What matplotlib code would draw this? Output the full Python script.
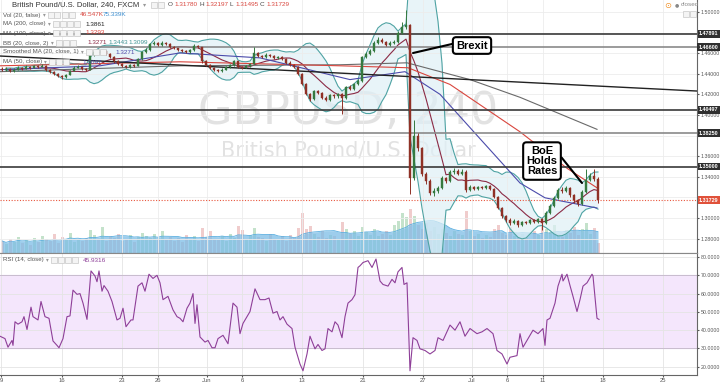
import numpy as np
import pandas as pd
import matplotlib
matplotlib.use("Agg")
from matplotlib import pyplot as plt
from matplotlib.patches import Rectangle

plt.rcParams['font.family'] = ['Liberation Sans', 'DejaVu Sans']

first_open = 1.4450
closes = [1.4440, 1.4450, 1.4430, 1.4440, 1.4460, 1.4450, 1.4470, 1.4460, 1.4478, 1.4469,
          1.4480, 1.4440, 1.4420, 1.4400, 1.4380, 1.4365, 1.4390, 1.4430, 1.4460, 1.4470,
          1.4450, 1.4440, 1.4580, 1.4610, 1.4600, 1.4620, 1.4590, 1.4560, 1.4520, 1.4500,
          1.4480, 1.4470, 1.4490, 1.4480, 1.4540, 1.4610, 1.4630, 1.4690, 1.4700, 1.4680,
          1.4700, 1.4690, 1.4660, 1.4650, 1.4630, 1.4620, 1.4610, 1.4630, 1.4670, 1.4660,
          1.4520, 1.4490, 1.4460, 1.4440, 1.4430, 1.4440, 1.4470, 1.4490, 1.4520, 1.4470,
          1.4460, 1.4480, 1.4500, 1.4600, 1.4570, 1.4560, 1.4580, 1.4570, 1.4550, 1.4560,
          1.4540, 1.4510, 1.4490, 1.4470, 1.4400, 1.4300, 1.4200, 1.4160, 1.4230, 1.4210,
          1.4170, 1.4150, 1.4190, 1.4180, 1.4200, 1.4170, 1.4270, 1.4250, 1.4300, 1.4330,
          1.4560, 1.4590, 1.4620, 1.4700, 1.4730, 1.4710, 1.4680, 1.4700, 1.4710, 1.4800,
          1.4850, 1.4870, 1.3390, 1.3800, 1.3680, 1.3430, 1.3360, 1.3240, 1.3260, 1.3290,
          1.3390, 1.3360, 1.3450, 1.3460, 1.3430, 1.3450, 1.3270, 1.3300, 1.3280, 1.3300,
          1.3290, 1.3310, 1.3280, 1.3200, 1.3100, 1.3020, 1.2980, 1.2950, 1.2970, 1.2930,
          1.2960, 1.2950, 1.2980, 1.2960, 1.2990, 1.2950, 1.3050, 1.3120, 1.3190, 1.3270,
          1.3260, 1.3290, 1.3220, 1.3170, 1.3140, 1.3250, 1.3370, 1.3410, 1.3380, 1.3173]
highs = [1.4465, 1.4462, 1.4458, 1.4452, 1.4472, 1.4470, 1.4485, 1.4478, 1.4490, 1.4485,
         1.4495, 1.4485, 1.4448, 1.4425, 1.4405, 1.4390, 1.4400, 1.4440, 1.4475, 1.4490,
         1.4478, 1.4460, 1.4595, 1.4630, 1.4640, 1.4635, 1.4630, 1.4600, 1.4570, 1.4530,
         1.4510, 1.4490, 1.4500, 1.4500, 1.4550, 1.4620, 1.4650, 1.4700, 1.4720, 1.4710,
         1.4715, 1.4710, 1.4695, 1.4670, 1.4655, 1.4640, 1.4630, 1.4640, 1.4685, 1.4680,
         1.4665, 1.4530, 1.4500, 1.4470, 1.4450, 1.4455, 1.4480, 1.4500, 1.4530, 1.4525,
         1.4480, 1.4490, 1.4510, 1.4660, 1.4610, 1.4585, 1.4600, 1.4595, 1.4580, 1.4575,
         1.4570, 1.4550, 1.4520, 1.4500, 1.4480, 1.4410, 1.4310, 1.4210, 1.4245, 1.4240,
         1.4220, 1.4180, 1.4200, 1.4200, 1.4210, 1.4210, 1.4280, 1.4290, 1.4315, 1.4345,
         1.4575, 1.4610, 1.4640, 1.4715, 1.4760, 1.4745, 1.4720, 1.4715, 1.4730, 1.4820,
         1.4900, 1.5018, 1.4880, 1.3950, 1.3830, 1.3690, 1.3450, 1.3380, 1.3290, 1.3310,
         1.3410, 1.3400, 1.3470, 1.3490, 1.3480, 1.3480, 1.3470, 1.3320, 1.3310, 1.3315,
         1.3310, 1.3325, 1.3320, 1.3290, 1.3210, 1.3110, 1.3030, 1.3000, 1.2990, 1.2980,
         1.2975, 1.2975, 1.2995, 1.2990, 1.3000, 1.3000, 1.3065, 1.3135, 1.3210, 1.3290,
         1.3300, 1.3310, 1.3300, 1.3230, 1.3180, 1.3270, 1.3480, 1.3440, 1.3480, 1.3400]
lows = [1.4425, 1.4430, 1.4418, 1.4422, 1.4435, 1.4440, 1.4445, 1.4450, 1.4455, 1.4460,
        1.4462, 1.4430, 1.4410, 1.4390, 1.4368, 1.4350, 1.4360, 1.4385, 1.4425, 1.4455,
        1.4440, 1.4430, 1.4435, 1.4570, 1.4590, 1.4590, 1.4580, 1.4550, 1.4510, 1.4490,
        1.4465, 1.4455, 1.4460, 1.4470, 1.4475, 1.4530, 1.4600, 1.4620, 1.4680, 1.4670,
        1.4670, 1.4680, 1.4650, 1.4640, 1.4620, 1.4610, 1.4600, 1.4600, 1.4625, 1.4650,
        1.4510, 1.4480, 1.4450, 1.4430, 1.4420, 1.4420, 1.4435, 1.4460, 1.4480, 1.4460,
        1.4450, 1.4455, 1.4470, 1.4495, 1.4560, 1.4550, 1.4555, 1.4560, 1.4540, 1.4540,
        1.4530, 1.4500, 1.4480, 1.4460, 1.4390, 1.4290, 1.4190, 1.4140, 1.4150, 1.4200,
        1.4160, 1.4135, 1.4140, 1.4170, 1.4170, 1.4010, 1.4160, 1.4240, 1.4240, 1.4290,
        1.4320, 1.4550, 1.4580, 1.4610, 1.4690, 1.4700, 1.4670, 1.4670, 1.4690, 1.4700,
        1.4790, 1.4840, 1.3229, 1.3370, 1.3650, 1.3410, 1.3330, 1.3220, 1.3210, 1.3240,
        1.3280, 1.3340, 1.3350, 1.3430, 1.3420, 1.3420, 1.3250, 1.3260, 1.3270, 1.3270,
        1.3280, 1.3280, 1.3270, 1.3190, 1.3090, 1.3000, 1.2960, 1.2930, 1.2940, 1.2910,
        1.2920, 1.2940, 1.2940, 1.2950, 1.2955, 1.2880, 1.2940, 1.3040, 1.3110, 1.3180,
        1.3240, 1.3250, 1.3200, 1.3150, 1.3120, 1.3130, 1.3240, 1.3360, 1.3360, 1.3150]
# volume in thousands
volumes = [60, 45, 70, 55, 80, 50, 65, 40, 75, 55,
           85, 70, 60, 95, 50, 80, 70, 100, 55, 65,
           60, 75, 115, 90, 70, 130, 60, 85, 75, 95,
           60, 70, 90, 55, 80, 100, 85, 75, 95, 70,
           110, 65, 80, 60, 75, 55, 90, 70, 85, 60,
           122, 80, 110, 70, 65, 85, 60, 95, 75, 133,
           115, 70, 90, 125, 80, 75, 60, 95, 70, 65,
           85, 60, 90, 75, 122, 196, 120, 133, 95, 80,
           110, 75, 90, 85, 70, 152, 120, 95, 110, 85,
           130, 105, 90, 120, 85, 95, 110, 90, 140, 160,
           200, 180, 215, 185, 140, 120, 148, 110, 130, 95,
           120, 100, 85, 110, 95, 90, 207, 110, 85, 95,
           75, 90, 80, 120, 140, 100, 90, 130, 85, 75,
           95, 80, 70, 110, 90, 150, 120, 105, 140, 95,
           80, 115, 100, 130, 90, 120, 150, 95, 125, 47]

# moving averages, vertices (4H bar index, price)
ma200_bars = [0, 90, 170, 203.5, 235, 260, 298.5]
ma200 = [1.4421, 1.4478, 1.4488, 1.4507, 1.4344, 1.4172, 1.3861]
ma100_bars = [0, 90, 170, 204, 225, 260, 283.5, 298.5]
ma100 = [1.4478, 1.4517, 1.4478, 1.4459, 1.4297, 1.3837, 1.3483, 1.3293]
ma50_bars = [0, 50, 90, 130, 175, 202.5, 220, 240, 260, 272.5, 298.5]
ma50 = [1.4440, 1.4478, 1.4603, 1.4555, 1.4344, 1.4421, 1.4201, 1.3770, 1.3340, 1.3196, 1.3097]

# drawn trendline
trend_bars = [0, 348.5]
trend_prices = [1.4573, 1.4233]

levels = [1.47891, 1.46600, 1.40497, 1.38250, 1.35000]
level_colors = ['#3a3a3a', '#8a8a8a', '#3a3a3a', '#8a8a8a', '#3a3a3a']
last_price = 1.31729

rsi_bars = [0, 2.5, 4, 6, 6.5, 7.5, 9, 11, 12, 13.5, 15.5, 16.5, 19, 20.5, 22.5, 24.5, 26.5,
            28.5, 29.5, 31.5, 33.5, 35, 36.5, 38.5, 40, 41.5, 43.5, 45.5, 47.5, 48.5, 49.5,
            51, 52, 54, 56, 58.5, 60, 61.5, 63, 65.5, 66.5, 69, 71, 72.5, 74.5, 76.5, 78.5,
            80, 81.5, 84, 86.5, 88.5, 90, 91.5, 93.5, 95, 96.5, 97.5, 98.5, 100, 102.5, 104,
            106, 107.5, 109, 111.5, 114, 116.5, 118.5, 120, 121.5, 123.5, 125, 127.5, 130,
            132.5, 134.5, 136.5, 138.5, 140, 141.5, 143.5, 146, 147.5, 150, 151.5, 153.5,
            155, 157.5, 159, 161, 162.5, 164, 166, 167.5, 169, 171, 172.5, 174, 176, 177.5,
            179, 180, 181.5, 184, 186, 188, 190, 191.5, 194, 196, 197.5, 199, 201, 202,
            203.5, 205, 206.5, 208.5, 210, 212.5, 215, 217.5, 219, 221.5, 225, 227.5, 230,
            232.5, 235, 238.5, 241, 243.5, 246.5, 248.5, 251, 253.5, 255, 258.5, 260, 261.5,
            264, 266.5, 269, 271.5, 272.5, 273.5, 275, 277.5, 279, 281, 281.5, 283.5, 285,
            286.5, 288.5, 290, 291.5, 293.5, 296, 296.5, 298.5, 299.5]
rsi_vals = [36.7, 35.4, 30.7, 34.4, 31.7, 44.6, 43.3, 44.6, 47.4, 40.4, 52.6, 47.4, 45.6, 55.7,
            47.4, 46.5, 34.1, 31.7, 30.4, 35.4, 47.4, 47.8, 61.9, 59.6, 60.0, 54.8, 45.9, 72.4,
            69.6, 66.5, 72.4, 61.3, 64.4, 61.3, 55.7, 45.6, 46.5, 52.0, 41.9, 45.6, 45.6, 64.1,
            65.9, 61.3, 70.6, 68.3, 70.0, 65.9, 56.7, 58.5, 51.1, 47.4, 46.5, 44.6, 52.0, 54.8,
            60.0, 43.7, 53.9, 36.3, 33.5, 34.4, 30.4, 30.4, 35.4, 37.2, 32.6, 54.8, 52.6, 38.1,
            43.7, 47.4, 50.2, 62.6, 56.7, 56.7, 57.6, 49.3, 50.2, 45.6, 47.4, 43.3, 40.9, 30.7,
            21.5, 17.8, 27.0, 36.7, 29.8, 32.2, 28.9, 29.8, 40.9, 39.1, 44.6, 42.8, 35.9, 47.4,
            54.8, 56.7, 59.4, 74.3, 75.2, 77.0, 78.0, 74.3, 78.9, 66.9, 65.0, 64.1, 67.8, 65.9,
            71.9, 74.3, 65.0, 65.9, 17.8, 35.9, 34.4, 29.8, 28.9, 27.0, 28.9, 35.9, 34.4, 42.8,
            40.0, 44.6, 36.7, 40.9, 38.1, 39.1, 40.9, 38.1, 28.9, 27.0, 21.5, 25.2, 26.1, 38.1,
            30.7, 35.4, 40.0, 38.1, 40.9, 31.7, 45.6, 46.5, 54.8, 64.1, 70.6, 66.9, 70.6, 64.4,
            58.5, 50.2, 56.7, 64.1, 65.9, 70.6, 69.6, 46.5, 45.9]

tick_bars = [0.5, 31, 61, 79, 103.5, 121, 151, 181.5, 211.5, 236, 253.5, 271.5, 301.5, 331.5]
tick_labels = ['9', '16', '23', '26', 'Jun', '6', '13', '21', '27', 'Jul', '6', '11', '18', '25']

W, H = 720, 385


def fx(x):
    return x / W


def fy(y):
    return 1 - y / H


fig = plt.figure(figsize=(7.2, 3.85), dpi=100)
fig.patch.set_facecolor('white')
main_rect = [0, fy(253), 697 / W, 253 / H]
vol_ax = fig.add_axes(main_rect)
ax = fig.add_axes(main_rect, sharex=vol_ax)
rsi_ax = fig.add_axes([0, fy(375), 697 / W, 122 / H], sharex=vol_ax)
ax.set_facecolor('none')

c = np.array(closes)
o = np.r_[first_open, c[:-1]]
cbar = 1 + 2 * np.arange(len(c))
up = c >= o

# volume with its 20 bar average
vol_ax.bar(cbar, volumes, width=1.5, color=np.where(up, '#c4e2cb', '#f0cccc'), zorder=1)
vol_ma = pd.Series(volumes).rolling(10, min_periods=1).mean()
vol_ax.fill_between(cbar, 0, vol_ma, color='#7cbde6', alpha=0.75, lw=0, zorder=2)
vol_ax.plot(cbar, vol_ma, color='#5aaee0', lw=0.6, zorder=3)
vol_ax.set_ylim(0, 1250)
vol_ax.axis('off')

# bollinger bands (20 4H bars) and its basis
s = pd.Series(c)
basis = s.rolling(10, min_periods=2).mean()
dev = s.rolling(10, min_periods=2).std(ddof=0)
upper = basis + 2 * dev
lower = basis - 2 * dev
ax.fill_between(cbar, lower, upper, color='#dff0f6', alpha=0.7, lw=0, zorder=1)
ax.plot(cbar, upper, color='#4fa3a3', lw=0.8, zorder=2)
ax.plot(cbar, lower, color='#4fa3a3', lw=0.8, zorder=2)
ax.plot(cbar, basis, color='#8b2a45', lw=0.8, zorder=3)

ax.plot(ma200_bars, ma200, color='#6a6a6a', lw=0.8, zorder=3)
ax.plot(ma100_bars, ma100, color='#d9463e', lw=0.8, zorder=3)
ax.plot(ma50_bars, ma50, color='#4b4bab', lw=0.8, zorder=3)
ax.plot(trend_bars, trend_prices, color='#222222', lw=1.0, zorder=3)

lab_x = 718.5 / 697
for lv, lc in zip(levels, level_colors):
    ax.axhline(lv, color=lc, lw=1.2, zorder=3)
    ax.text(lab_x, lv, f'{lv:.5f}', transform=ax.get_yaxis_transform(), ha='right', va='center',
            fontsize=3.9, color='white', fontweight='bold', clip_on=False, zorder=10,
            bbox=dict(boxstyle='square,pad=0.25', fc='#2f2f2f', ec='none'))
ax.axhline(last_price, color='#e8573e', lw=0.8, ls=(0, (1, 1.5)), zorder=3)
ax.text(lab_x, last_price, f'{last_price:.5f}', transform=ax.get_yaxis_transform(), ha='right',
        va='center', fontsize=3.9, color='white', fontweight='bold', clip_on=False, zorder=10,
        bbox=dict(boxstyle='square,pad=0.25', fc='#e0513a', ec='none'))

# candles
col = np.where(up, '#35793f', '#8f3126')
ax.vlines(cbar, lows, highs, colors=col, lw=0.7, zorder=4)
ax.bar(cbar, np.maximum(np.abs(c - o), 0.0004), bottom=np.minimum(o, c), width=1.3,
       color=col, edgecolor=col, lw=0.3, zorder=5)

# watermark
ax.text(0.5, 0.561, 'GBPUSD, 240', transform=ax.transAxes, ha='center', va='center',
        fontsize=32, color='#e2e2e2', family='DejaVu Sans', zorder=0)
ax.text(0.5, 0.407, 'British Pound/U.S. Dollar', transform=ax.transAxes, ha='center',
        va='center', fontsize=15, color='#e2e2e2', family='DejaVu Sans', zorder=0)

# callouts
ax.annotate('Brexit', xy=(206.5, 1.4602), xytext=(236, 1.4675), ha='center', va='center',
            fontsize=8, fontweight='bold', zorder=12,
            bbox=dict(boxstyle='round,pad=0.3', fc='white', ec='black', lw=1.5),
            arrowprops=dict(arrowstyle='-', color='black', lw=1.5, shrinkA=0, shrinkB=0,
                            relpos=(0, 0.75)))
ax.annotate('BoE\nHolds\nRates', xy=(291, 1.334), xytext=(271, 1.3553), ha='center', va='center',
            fontsize=8, fontweight='bold', linespacing=1.05, zorder=12,
            bbox=dict(boxstyle='round,pad=0.3', fc='white', ec='black', lw=1.5),
            arrowprops=dict(arrowstyle='-', color='black', lw=1.5, shrinkA=0, shrinkB=0,
                            relpos=(1, 0.78)))

ax.set_xlim(0, 348.5)
ax.set_ylim(1.2660, 1.5117)
price_ticks = np.arange(1.28, 1.501, 0.02)
ax.set_yticks(price_ticks)
# labels that sit fully under a level box are left out
covered = [1.32, 1.38, 1.48]
ax.set_yticklabels(['' if any(abs(p - q) < 1e-6 for q in covered) else f'{p:.5f}'
                    for p in price_ticks])
ax.yaxis.tick_right()
ax.tick_params(axis='y', labelsize=3.8, colors='#555555', length=1.5, pad=1)
ax.tick_params(axis='x', bottom=False, labelbottom=False)
ax.grid(True, color='#ececec', lw=0.6, zorder=0)
for sp in ['top', 'left']:
    ax.spines[sp].set_visible(False)
ax.spines['right'].set_color('#666666')
ax.spines['bottom'].set_color('#888888')

# RSI panel
rsi_ax.axhspan(30, 70, color='#f4e6fc', zorder=0)
rsi_ax.axhline(70, color='#c9bccf', lw=0.7)
rsi_ax.axhline(30, color='#c9bccf', lw=0.7)
rsi_ax.plot(rsi_bars, rsi_vals, color='#8e3f98', lw=0.8, zorder=3)
rsi_ax.set_ylim(15.5, 82.2)
rsi_ax.set_yticks([20, 30, 40, 50, 60, 70, 80])
rsi_ax.yaxis.tick_right()
rsi_ax.yaxis.set_major_formatter(matplotlib.ticker.FormatStrFormatter('%.4f'))
rsi_ax.tick_params(axis='y', labelsize=3.8, colors='#555555', length=1.5, pad=1)
rsi_ax.set_xticks(tick_bars, tick_labels)
rsi_ax.tick_params(axis='x', labelsize=4.2, colors='#555555', length=1.5, pad=0.5)
rsi_ax.grid(True, color='#e4e4e4', lw=0.6, zorder=0)
rsi_ax.set_axisbelow(True)
rsi_ax.spines['left'].set_visible(False)
rsi_ax.spines['top'].set_color('#888888')
rsi_ax.spines['right'].set_color('#666666')
rsi_ax.spines['bottom'].set_color('#666666')
rsi_ax.set_xlim(0, 348.5)

# legend strip
renderer = fig.canvas.get_renderer()


def boxes(x, y, n):
    for k in range(n):
        fig.patches.append(Rectangle((fx(x + 7 * k), fy(y + 3)), 6 / W, 6 / H,
                                     transform=fig.transFigure, fc='#f4f4f4', ec='#c8c8c8',
                                     lw=0.5, zorder=20))


def legend_row(name, y, vals, nbox=4):
    t = fig.text(fx(3), fy(y), name, fontsize=4.4, color='#555555', va='center')
    x1 = t.get_window_extent(renderer).x1
    fig.text(fx(x1 + 2), fy(y), '▾', fontsize=4, color='#999999', va='center',
             family='DejaVu Sans')
    boxes(x1 + 7, y, nbox)
    for v, x, vc in vals:
        fig.text(fx(x), fy(y), v, fontsize=4.6, color=vc, va='center')


fig.text(fx(12), fy(5), 'British Pound/U.S. Dollar, 240, FXCM', fontsize=5.5, color='#333333',
         va='center')
fig.text(fx(143), fy(5), '▾', fontsize=4.5, color='#999999', va='center', family='DejaVu Sans')
boxes(151, 5, 2)
ohlc = [('O', 168), ('1.31780', 174), ('H', 199), ('1.32197', 205), ('L', 230),
        ('1.31495', 235), ('C', 260), ('1.31729', 266)]
for k, (t, x) in enumerate(ohlc):
    fig.text(fx(x), fy(5), t, fontsize=4.6, va='center',
             color='#444444' if k % 2 == 0 else '#d9463e')

legend_row('Vol (20, false)', 15, [('46.547K', 80, '#d9463e'), ('75.339K', 103, '#3d8fd1')])
legend_row('MA (200, close)', 24, [('1.3861', 85, '#222222')])
legend_row('MA (100, close)', 33, [('1.3293', 85, '#d9463e')])
legend_row('BB (20, close, 2)', 43, [('1.3271', 87, '#8b2a45'), ('1.3443', 108, '#3f9494'),
                                      ('1.3099', 128, '#3f9494')], 3)
legend_row('Smoothed MA (20, close, 1)', 52, [('1.3271', 115, '#4b4bab')], 3)
legend_row('MA (50, close)', 62, [('1.3097', 82, '#4b4bab')], 3)
legend_row('RSI (14, close)', 260, [('45.9316', 83, '#8e3f98')])

fig.text(fx(664), fy(5), '⊙', fontsize=6, color='#f0932b', va='center', family='DejaVu Sans')
fig.text(fx(675), fy(5), '●', fontsize=3.5, color='#888888', va='center', family='DejaVu Sans')
fig.text(fx(681), fy(5), 'closed', fontsize=4.6, color='#888888', va='center')
boxes(683, 14, 2)

fig.savefig('out.png', dpi=100, facecolor='white')
